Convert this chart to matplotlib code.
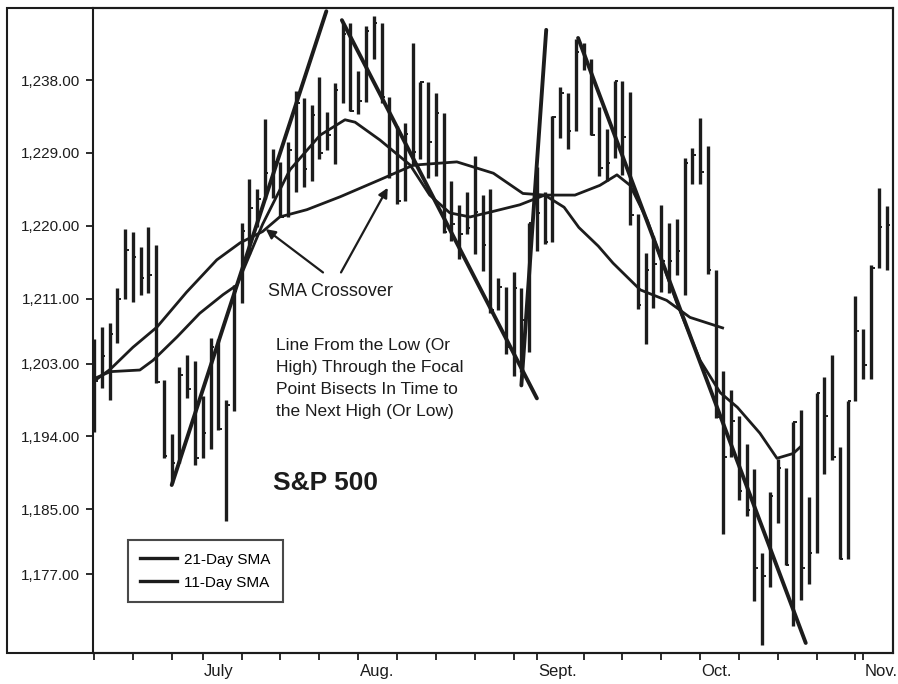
import numpy as np
import pandas as pd
import matplotlib
matplotlib.use("Agg")
import matplotlib.pyplot as plt
from matplotlib.lines import Line2D
from matplotlib.patches import Rectangle

# trading days shown (S&P 500, mid-June to early Nov.)
days = pd.bdate_range("2005-06-13", "2005-11-04")
days = days[~days.isin(pd.to_datetime(["2005-07-04", "2005-09-05"]))]

highs = [1206.0, 1207.5, 1208.0, 1212.3, 1219.6, 1219.2, 1217.4, 1219.9, 1217.6, 1201.0,
         1194.3, 1202.6, 1204.1, 1203.3, 1199.0, 1206.1, 1206.0, 1198.5, 1212.7, 1220.3,
         1225.8, 1224.6, 1233.2, 1229.5, 1227.9, 1230.3, 1236.6, 1235.8, 1234.9, 1238.4,
         1234.1, 1237.6, 1245.1, 1245.0, 1239.1, 1244.7, 1245.9, 1245.0, 1235.9, 1232.3,
         1232.7, 1242.6, 1237.8, 1237.8, 1236.4, 1233.9, 1225.6, 1222.6, 1224.2, 1228.6,
         1223.8, 1224.5, 1213.6, 1212.4, 1214.3, 1212.3, 1220.4, 1227.3, 1224.2, 1233.6,
         1237.1, 1236.4, 1243.1, 1242.6, 1240.6, 1234.7, 1231.9, 1237.9, 1237.9, 1236.5,
         1221.5, 1216.6, 1218.8, 1222.6, 1220.4, 1220.9, 1228.4, 1229.6, 1233.3, 1229.9,
         1214.5, 1202.1, 1199.7, 1196.5, 1193.1, 1190.0, 1179.6, 1187.1, 1191.2, 1190.1,
         1195.8, 1197.3, 1186.5, 1199.4, 1201.3, 1204.0, 1192.7, 1198.4, 1211.4, 1207.3,
         1215.2, 1224.7, 1222.5]
lows = [1194.5, 1200.0, 1198.5, 1205.5, 1211.0, 1210.6, 1211.5, 1211.7, 1200.6, 1191.3,
        1188.3, 1190.7, 1198.7, 1190.5, 1191.3, 1192.5, 1194.8, 1183.6, 1197.2, 1210.5,
        1216.5, 1219.8, 1223.3, 1223.5, 1221.1, 1221.1, 1224.2, 1224.8, 1225.5, 1228.2,
        1229.4, 1227.6, 1235.2, 1234.2, 1233.8, 1235.3, 1240.6, 1235.2, 1225.9, 1222.7,
        1223.1, 1227.4, 1228.3, 1225.9, 1226.2, 1219.1, 1218.1, 1215.9, 1219.0, 1216.5,
        1214.4, 1209.2, 1209.6, 1204.2, 1201.5, 1201.9, 1204.4, 1216.9, 1217.8, 1218.0,
        1230.8, 1229.5, 1231.7, 1239.2, 1231.2, 1226.2, 1225.6, 1228.4, 1226.3, 1220.1,
        1209.7, 1205.4, 1209.8, 1211.8, 1211.7, 1213.9, 1211.5, 1225.2, 1225.2, 1214.0,
        1196.3, 1181.9, 1191.5, 1186.1, 1184.2, 1173.7, 1168.2, 1175.4, 1183.3, 1178.1,
        1170.6, 1173.8, 1175.8, 1179.6, 1189.3, 1191.1, 1178.9, 1178.9, 1198.4, 1201.1,
        1201.1, 1214.8, 1214.5]
closes = [1200.8, 1203.9, 1206.6, 1211.0, 1217.0, 1216.1, 1213.6, 1213.9, 1200.7, 1191.6,
          1190.7, 1201.6, 1199.9, 1191.3, 1194.4, 1205.0, 1194.9, 1197.9, 1211.9, 1219.4,
          1222.2, 1223.3, 1226.5, 1227.9, 1221.1, 1229.4, 1235.2, 1227.0, 1233.7, 1229.0,
          1231.2, 1236.8, 1243.7, 1234.2, 1235.4, 1244.1, 1245.0, 1235.9, 1226.4, 1223.1,
          1231.4, 1229.1, 1237.8, 1230.4, 1233.9, 1219.3, 1220.2, 1219.0, 1219.7, 1221.7,
          1217.6, 1209.6, 1212.4, 1205.1, 1212.3, 1208.4, 1220.3, 1221.6, 1218.0, 1233.4,
          1236.4, 1231.7, 1241.5, 1240.6, 1231.2, 1227.2, 1227.7, 1237.9, 1231.0, 1221.3,
          1210.2, 1214.6, 1215.3, 1215.6, 1215.7, 1216.9, 1227.7, 1228.8, 1226.7, 1214.5,
          1196.4, 1191.5, 1195.9, 1187.3, 1184.9, 1177.7, 1176.8, 1186.6, 1190.1, 1178.1,
          1195.8, 1177.8, 1179.6, 1199.4, 1196.5, 1191.4, 1178.9, 1198.4, 1207.0, 1202.8,
          1214.8, 1219.9, 1220.1]

# moving averages (bar index, price)
sma21_x = [0.4, 2.1, 5.0, 8.1, 11.9, 15.8, 18.8, 21.7, 23.9, 27.4, 31.7, 36.8, 41.1,
           46.7, 51.4, 55.2, 58.0, 60.5, 62.4, 64.9, 66.8, 70.3, 73.7, 76.7, 80.9]
sma21_y = [1201.1, 1202.3, 1205.0, 1207.5, 1211.8, 1215.8, 1217.9, 1219.3, 1221.1, 1222.0,
           1223.6, 1225.7, 1227.5, 1227.9, 1226.5, 1224.0, 1223.8, 1222.3, 1219.8, 1217.5,
           1215.4, 1212.1, 1210.8, 1208.7, 1207.4]
sma11_x = [0.4, 2.1, 5.9, 7.6, 10.7, 13.6, 16.6, 18.4, 21.7, 25.2, 29.1, 32.3, 33.6, 36.8,
           40.7, 43.2, 45.8, 48.4, 51.0, 54.8, 58.0, 61.9, 65.1, 67.3, 69.0, 71.2, 75.0,
           78.0, 80.6, 82.8, 85.7, 87.9, 90.0, 90.9]
sma11_y = [1201.3, 1202.0, 1202.2, 1203.4, 1206.3, 1209.2, 1211.5, 1212.7, 1220.2, 1226.9,
           1231.2, 1233.1, 1232.8, 1230.6, 1227.5, 1223.8, 1221.6, 1221.1, 1221.7, 1222.6,
           1223.8, 1223.8, 1225.0, 1226.3, 1225.0, 1220.7, 1210.5, 1203.4, 1199.4, 1197.6,
           1194.4, 1191.3, 1191.9, 1192.7]

# hand-drawn trend lines: (start index, start price, end index, end price)
trend_lines = [
    (10.0, 1188.0, 29.9, 1246.5),
    (31.9, 1245.4, 57.0, 1198.7),
    (55.0, 1200.3, 58.2, 1244.2),
    (62.3, 1243.2, 91.6, 1168.5),
]

yticks = [1177, 1185, 1194, 1203, 1211, 1220, 1229, 1238]
month_names = ["July", "Aug.", "Sept.", "Oct.", "Nov."]

ink = "#1c1c1c"
plt.rcParams["font.family"] = ["Liberation Sans", "DejaVu Sans"]

fig = plt.figure(figsize=(8.98, 6.84), dpi=100)
ax = fig.add_axes([93 / 898, 31 / 684, 800 / 898, 645 / 684])

x = np.arange(len(days))
ax.vlines(x, lows, highs, color=ink, lw=2.4)
ax.hlines(closes, x, x + 0.45, color=ink, lw=1.4)

ax.plot(sma21_x, sma21_y, color=ink, lw=2.0, solid_joinstyle="round")
ax.plot(sma11_x, sma11_y, color=ink, lw=2.0, solid_joinstyle="round")

for x0, y0, x1, y1 in trend_lines:
    ax.plot([x0, x1], [y0, y1], color=ink, lw=2.8, solid_capstyle="round")

ax.set_xlim(-0.13, 102.83)
ax.set_ylim(1167.26, 1246.9)

ax.set_yticks(yticks)
ax.set_yticklabels([f"{v:,.2f}" for v in yticks])

mondays = [i for i, d in enumerate(days) if d.dayofweek == 0]
firsts = [i for i in range(1, len(days)) if days[i].month != days[i - 1].month]
ax.set_xticks(sorted(set(mondays + firsts)))
ax.set_xticklabels([])
for i, name in zip(firsts, month_names):
    ax.annotate(name, (i, 0), xycoords=("data", "axes fraction"), xytext=(1, -8),
                textcoords="offset points", ha="left", va="top", fontsize=12,
                color=ink)

ax.tick_params(axis="both", direction="out", length=5, width=1.3, color=ink,
               labelcolor=ink, labelsize=11)
ax.tick_params(axis="y", pad=4.5)
for s in ax.spines.values():
    s.set_linewidth(1.5)
    s.set_color(ink)

# outer frame around the whole chart
fig.add_artist(Rectangle((7 / 898, 31 / 684), 886 / 898, 645 / 684,
                         transform=fig.transFigure, fill=False, lw=1.5, ec=ink))

ax.text(0.219, 0.561, "SMA Crossover", transform=ax.transAxes, fontsize=13,
        color=ink, va="center", ha="left")
ax.text(0.229, 0.488, "Line From the Low (Or\nHigh) Through the Focal\n"
        "Point Bisects In Time to\nthe Next High (Or Low)", transform=ax.transAxes,
        fontsize=12.5, color=ink, va="top", ha="left", linespacing=1.58)
ax.text(0.225, 0.264, "S&P 500", transform=ax.transAxes, fontsize=19,
        fontweight="bold", color=ink, va="center", ha="left")

arrow = dict(arrowstyle="-|>", lw=1.6, color=ink, mutation_scale=14,
             shrinkA=0, shrinkB=0)
ax.annotate("", xy=(22.1, 1219.6), xytext=(0.2875, 0.59),
            textcoords="axes fraction", arrowprops=arrow)
ax.annotate("", xy=(37.8, 1224.7), xytext=(0.31, 0.59),
            textcoords="axes fraction", arrowprops=arrow)

handles = [Line2D([], [], color=ink, lw=2.4), Line2D([], [], color=ink, lw=2.4)]
leg = ax.legend(handles, ["21-Day SMA", "11-Day SMA"], loc="lower left",
                bbox_to_anchor=(0.044, 0.079), borderaxespad=0, fontsize=11,
                frameon=True, fancybox=False, edgecolor=ink, handlelength=2.4,
                borderpad=0.8, labelspacing=0.6, handletextpad=0.45)
leg.get_frame().set_linewidth(1.5)

fig.savefig("out.png", dpi=100, facecolor="white")
